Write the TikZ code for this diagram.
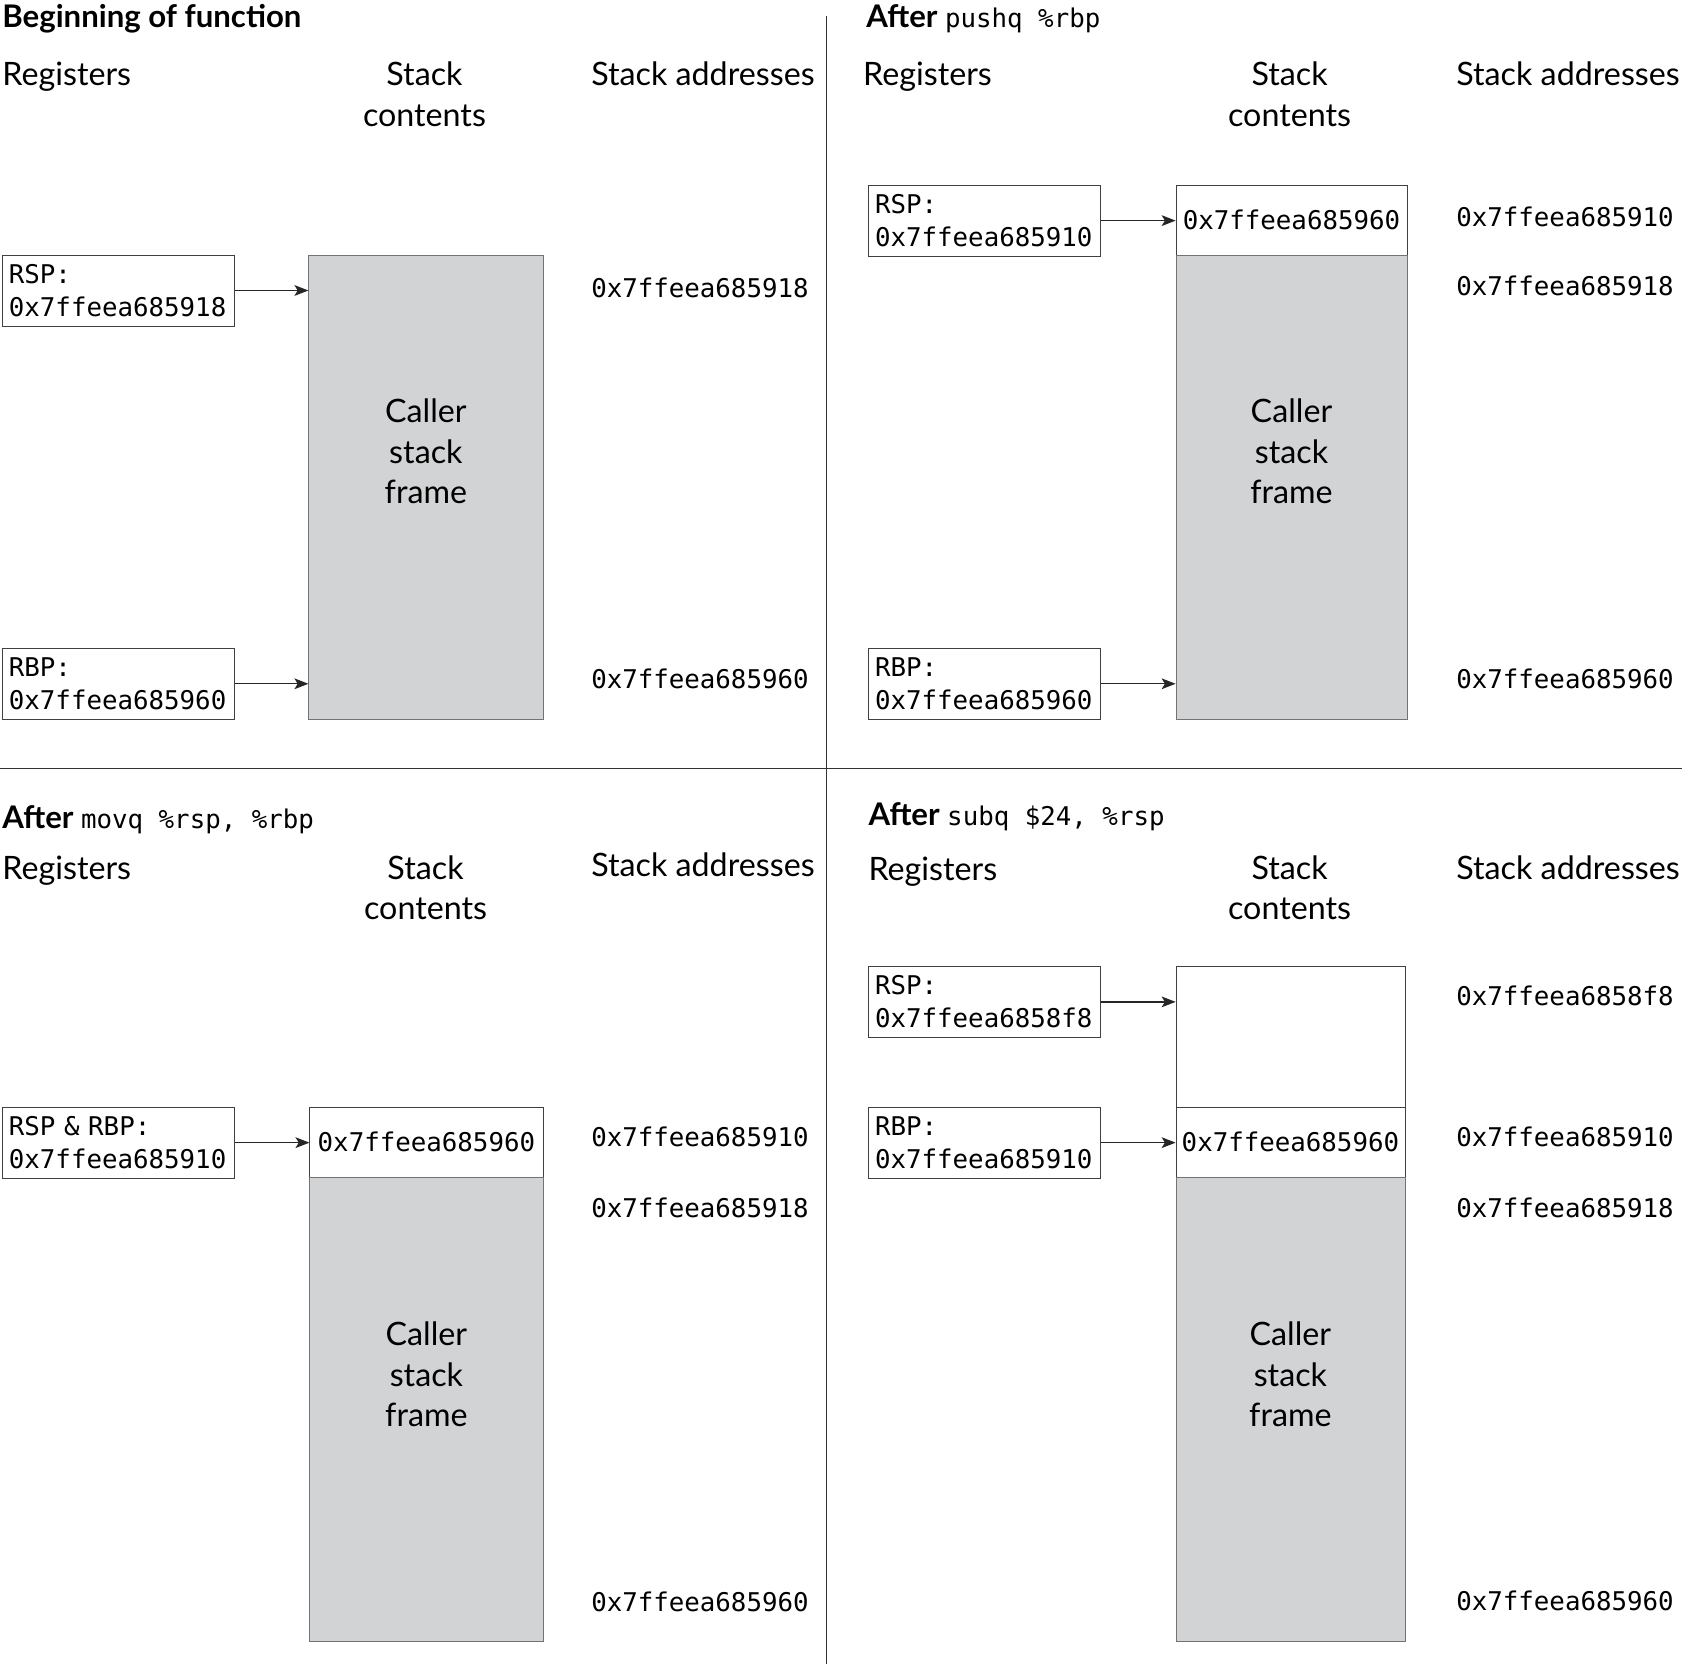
\documentclass[tikz,border=0pt]{standalone}
\usepackage{fontspec}
\setmainfont{Lato}
\setmonofont{DejaVu Sans Mono}
\usetikzlibrary{arrows.meta}
\definecolor{framegray}{RGB}{209,211,212}
\newcommand{\bodyfnt}{\fontsize{30}{37.5}\selectfont}
\newcommand{\monofnt}{\ttfamily\mdseries\fontsize{24}{31}\selectfont}
\newcommand{\headfnt}{\bfseries\fontsize{29}{35}\selectfont}

\begin{document}
\begin{tikzpicture}[x=1pt, y=-1pt,
    regbox/.style={draw=black!75, line width=0.6pt, anchor=north west, minimum height=66pt,
      text width=204pt, inner xsep=6pt, inner ysep=3pt, align=left, font=\monofnt},
    cell/.style={draw=black!75, line width=0.6pt, fill=white, anchor=north west, inner sep=0pt, font=\monofnt},
    callerframe/.style={draw=black!55, line width=0.6pt, fill=framegray, anchor=north west,
      inner sep=0pt, minimum height=432pt},
    addr/.style={anchor=west, inner sep=0pt, font=\monofnt},
    paneltitle/.style={anchor=base west, inner sep=0pt, font=\headfnt},
    colhead/.style={anchor=base west, inner sep=0pt, font=\bodyfnt},
    stackhead/.style={anchor=base, inner sep=0pt, text width=140pt, align=center, font=\bodyfnt},
    caller/.style={inner sep=0pt, align=center, font=\bodyfnt},
    ptr/.style={-{Stealth[length=13pt, width=10pt, inset=3pt]}, line width=1.3pt, black!85}]

  \useasboundingbox (0,0) rectangle (1568,1548);

  % dividers
  \draw[black!80, line width=1pt] (769,15) -- (769,1548);
  \draw[black!80, line width=1pt] (0,715) -- (1565,715);

  % Beginning of function
  \node[paneltitle] (t1) at (2,26) {Beginning of function};
  \node[colhead] (reg1) at (2,80) {Registers};
  \node[stackhead] (sc1) at (395,80) {Stack\\contents};
  \node[colhead] (sa1) at (550,80) {Stack addresses};
  \node[callerframe, minimum width=218pt] (f1) at (287,237) {};
  \node[caller] (cf1) at ([yshift=-183pt]f1.north) {Caller\\stack\\frame};
  \node[regbox] (rsp1) at (2,237) {RSP:\\0x7ffeea685918};
  \node[regbox] (rbp1) at (2,603) {RBP:\\0x7ffeea685960};
  \draw[ptr] (rsp1.east) -- (rsp1.east -| f1.west);
  \draw[ptr] (rbp1.east) -- (rbp1.east -| f1.west);
  \node[addr] (a1a) at (550,268) {0x7ffeea685918};
  \node[addr] (a1b) at (550,632) {0x7ffeea685960};

  % After pushq
  \node[paneltitle] (t2) at (806,26) {After {\monofnt pushq \%rbp}};
  \node[colhead] (reg2) at (803,80) {Registers};
  \node[stackhead] (sc2) at (1200,80) {Stack\\contents};
  \node[colhead] (sa2) at (1355,80) {Stack addresses};
  \node[cell, minimum width=215pt, minimum height=65pt] (c2) at (1094,172) {0x7ffeea685960};
  \node[callerframe, minimum width=215pt] (f2) at (1094,237) {};
  \node[caller] (cf2) at ([yshift=-183pt]f2.north) {Caller\\stack\\frame};
  \node[regbox] (rsp2) at (808,172) {RSP:\\0x7ffeea685910};
  \node[regbox] (rbp2) at (808,603) {RBP:\\0x7ffeea685960};
  \draw[ptr] (rsp2.east) -- (rsp2.east -| c2.west);
  \draw[ptr] (rbp2.east) -- (rbp2.east -| f2.west);
  \node[addr] (a2a) at (1355,202) {0x7ffeea685910};
  \node[addr] (a2b) at (1355,266) {0x7ffeea685918};
  \node[addr] (a2c) at (1355,632) {0x7ffeea685960};

  % After movq
  \node[paneltitle] (t3) at (2,771) {After {\monofnt movq \%rsp, \%rbp}};
  \node[colhead] (reg3) at (2,818) {Registers};
  \node[stackhead] (sc3) at (396,818) {Stack\\contents};
  \node[colhead] (sa3) at (550,816) {Stack addresses};
  \node[cell, minimum width=217pt, minimum height=65pt] (c3) at (288,1030) {0x7ffeea685960};
  \node[callerframe, minimum width=217pt] (f3) at (288,1095) {};
  \node[caller] (cf3) at ([yshift=-184pt]f3.north) {Caller\\stack\\frame};
  \node[regbox] (rr3) at (2,1030) {RSP \& RBP:\\0x7ffeea685910};
  \draw[ptr] (rr3.east) -- (rr3.east -| c3.west);
  \node[addr] (a3a) at (550,1058) {0x7ffeea685910};
  \node[addr] (a3b) at (550,1124) {0x7ffeea685918};
  \node[addr] (a3c) at (550,1491) {0x7ffeea685960};

  % After subq
  \node[paneltitle] (t4) at (808,768) {After {\monofnt subq \$24, \%rsp}};
  \node[colhead] (reg4) at (808,819) {Registers};
  \node[stackhead] (sc4) at (1200,818) {Stack\\contents};
  \node[colhead] (sa4) at (1355,818) {Stack addresses};
  \node[cell, minimum width=213pt, minimum height=131pt] (e4) at (1094,899) {};
  \node[cell, minimum width=213pt, minimum height=65pt] (c4) at (1094,1030) {0x7ffeea685960};
  \node[callerframe, minimum width=213pt] (f4) at (1094,1095) {};
  \node[caller] (cf4) at ([yshift=-184pt]f4.north) {Caller\\stack\\frame};
  \node[regbox] (rsp4) at (808,899) {RSP:\\0x7ffeea6858f8};
  \node[regbox] (rbp4) at (808,1030) {RBP:\\0x7ffeea685910};
  \draw[ptr] (rsp4.east) -- (rsp4.east -| e4.west);
  \draw[ptr] (rbp4.east) -- (rbp4.east -| c4.west);
  \node[addr] (a4a) at (1355,927) {0x7ffeea6858f8};
  \node[addr] (a4b) at (1355,1058) {0x7ffeea685910};
  \node[addr] (a4c) at (1355,1124) {0x7ffeea685918};
  \node[addr] (a4d) at (1355,1490) {0x7ffeea685960};
\end{tikzpicture}
\end{document}
